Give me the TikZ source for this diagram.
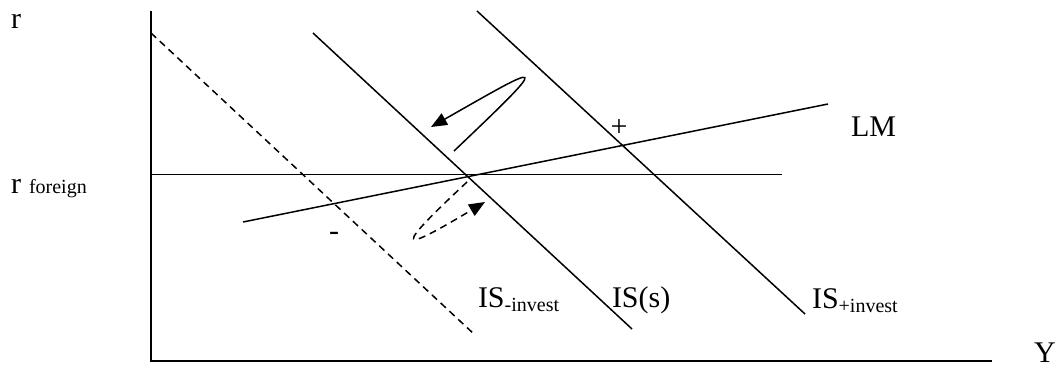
\documentclass[tikz,border=0pt]{standalone}
\usepackage{fontspec}
\setmainfont{Liberation Serif}
\usetikzlibrary{arrows.meta}
\begin{document}
\begin{tikzpicture}[x=1pt,y=-1pt,
  every node/.style={inner sep=0pt,outer sep=0pt},
  big/.style={font=\fontsize{30}{36}\selectfont},
  small/.style={font=\fontsize{20}{24}\selectfont},
  txt/.style={big,anchor=base west},
  sub/.style={small,anchor=base west},
  axis/.style={line width=1.8pt},
  curve/.style={line width=1.5pt},
  dashcurve/.style={line width=1.5pt,dash pattern=on 7pt off 5pt},
  tip/.style={-{Triangle[length=16pt,width=13pt]}}]
\useasboundingbox (0,0) rectangle (1062,367);
% axes
\coordinate (otop) at (151,11);
\coordinate (orig) at (151,361);
\coordinate (xend) at (992,361);
\draw[axis] (otop) -- (orig) -- (xend);
% labels on axes
\node[txt] (r) at (11,28) {r};
\node[txt] (rf) at (11,193) {r};
\node[sub] (foreign) at (29,193) {foreign};
\node[txt] (Y) at (1034,362) {Y};
% r foreign line
\coordinate (hf0) at (151,174.5);
\coordinate (hf1) at (782,174.5);
\draw[curve] (hf0) -- (hf1);
% LM
\coordinate (lm0) at (243,222);
\coordinate (lm1) at (828,104);
\draw[curve] (lm0) -- (lm1);
\node[txt] (LM) at (851,136) {LM};
% IS(s)
\coordinate (is0) at (313,33);
\coordinate (is1) at (632,329);
\draw[curve] (is0) -- (is1);
\node[txt] (ISs) at (612,307) {IS(s)};
% IS +invest
\coordinate (ip0) at (477,11);
\coordinate (ip1) at (805,314);
\draw[curve] (ip0) -- (ip1);
\node[txt] (ISp) at (812,308) {IS};
\node[sub] (ISpsub) at ([yshift=-4pt]ISp.base east) {+invest};
% IS -invest (dashed)
\coordinate (im0) at (151,33);
\coordinate (im1) at (475,335);
\draw[dashcurve] (im0) -- (im1);
\node[txt] (ISm) at (478,307) {IS};
\node[sub] (ISmsub) at ([yshift=-4pt]ISm.base east) {-invest};
% plus / minus
\node[big] (plus) at (619,128) {+};
\node[big] (minus) at (334,236) {-};
% solid hairpin arrow
\coordinate (sa0) at (454,151);
\coordinate (sa1) at (431,127);
\draw[curve,tip] (sa0) .. controls (555,55) and (545,62) .. (sa1);
% dashed hairpin arrow
\coordinate (da0) at (467,182);
\coordinate (da1) at (485,202);
\draw[dashcurve,tip] (da0) .. controls (392,252) and (398,254) .. (da1);
\end{tikzpicture}
\end{document}
